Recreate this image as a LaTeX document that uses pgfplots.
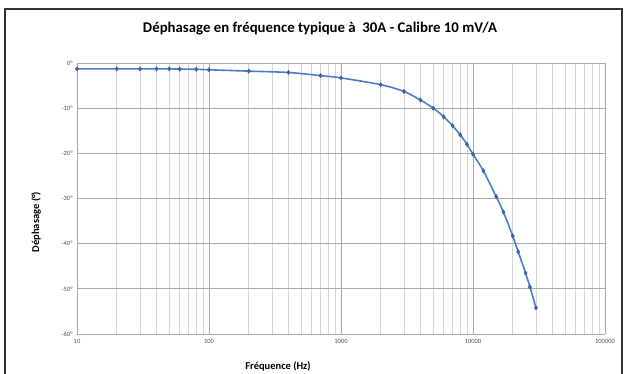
\documentclass[border=0pt]{standalone}
\usepackage{fontspec}
\setmainfont{Carlito}
\usepackage{pgfplots}
\pgfplotsset{compat=1.18}
\definecolor{lineblue}{RGB}{74,126,200}
\definecolor{markblue}{RGB}{58,98,168}
\definecolor{majgrid}{RGB}{170,170,170}
\definecolor{mingrid}{RGB}{214,214,214}
\definecolor{ticktxt}{RGB}{80,80,80}
\begin{document}
\begin{tikzpicture}[x=1pt,y=1pt]
\useasboundingbox (0,0) rectangle (627,374);
\draw[line width=1.2pt, black!80] (5,365) rectangle (622,-16);
\node[font=\bfseries\fontsize{14.8}{17}\selectfont] at (320,345) {Déphasage en fréquence typique à \ 30A - Calibre 10 mV/A};
\node[font=\bfseries\fontsize{10.5}{12}\selectfont] at (278,8) {Fréquence (Hz)};
\node[font=\bfseries\fontsize{10.5}{12}\selectfont, rotate=90] at (36,152) {Déphasage (°)};
\begin{axis}[
  at={(77pt,40pt)}, anchor=south west,
  scale only axis, width=528pt, height=271pt,
  xmode=log, xmin=10, xmax=100000,
  ymin=-60, ymax=0,
  xtick={10,100,1000,10000,100000},
  xticklabels={10,100,1000,10000,100000},
  ytick={-60,-50,-40,-30,-20,-10,0},
  yticklabels={-60°,-50°,-40°,-30°,-20°,-10°,0°},
  minor xtick={20,30,40,50,60,70,80,90,200,300,400,500,600,700,800,900,2000,3000,4000,5000,6000,7000,8000,9000,20000,30000,40000,50000,60000,70000,80000,90000},
  xmajorgrids, ymajorgrids, xminorgrids,
  major grid style={majgrid, line width=0.7pt},
  minor grid style={mingrid, line width=0.7pt},
  axis line style={majgrid, line width=0.7pt},
  axis x line*=bottom, axis y line*=left,
  tick style={draw=none},
  ticklabel style={font=\fontsize{6.5}{7}\selectfont, text=ticktxt},
  xticklabel style={yshift=-2pt},
  yticklabel style={xshift=-1pt},
  clip=false,
]
\addplot[lineblue, line width=1.6pt, smooth, mark=diamond*, mark size=2.2pt,
  mark options={fill=markblue, draw=markblue, line width=0.4pt}] coordinates {
(10,-1.3) (20,-1.3) (30,-1.3) (40,-1.3) (50,-1.3) (60,-1.35) (80,-1.4) (100,-1.5)
(200,-1.8) (400,-2.1) (700,-2.8) (1000,-3.3) (2000,-4.8) (3000,-6.3) (4000,-8.2)
(5000,-10.0) (6000,-11.9) (7000,-13.9) (8000,-15.9) (9000,-18.0) (10000,-20.2)
(12000,-23.9) (15000,-29.6) (17000,-33.0) (20000,-38.3) (22000,-41.8)
(25000,-46.5) (27000,-49.6) (30000,-54.2)
};
\end{axis}
\end{tikzpicture}
\end{document}
